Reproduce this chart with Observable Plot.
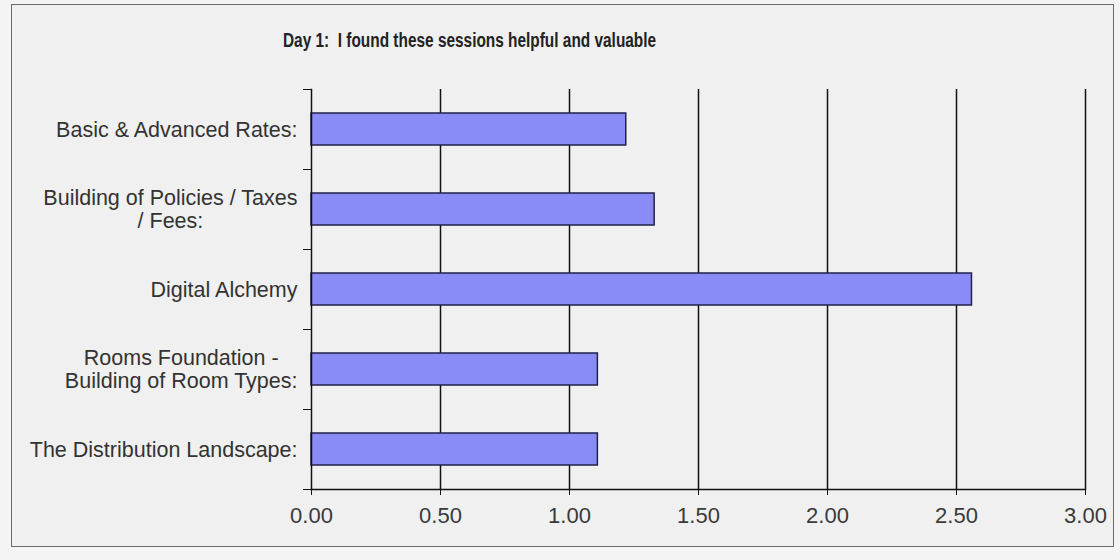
<!DOCTYPE html>
<html>
<head>
<meta charset="utf-8">
<script src="https://cdn.jsdelivr.net/npm/d3@7"></script>
<script src="https://cdn.jsdelivr.net/npm/@observablehq/plot@0.6"></script>
<style>
  html, body { margin: 0; padding: 0; background: #f4f4f4; }
  #wrap { position: relative; width: 1120px; height: 560px; overflow: hidden; background: #f4f4f4; }
  #border { position: absolute; left: 11px; top: 4px; width: 1103px; height: 543px; border: 1.5px solid #6a6a6a; background: #f0f0f0; box-sizing: border-box; }
  #title { position: absolute; left: 283px; top: 30px; font-family: "Liberation Sans", Arial, sans-serif; font-weight: bold; font-size: 20px; line-height: 20px; color: #222; white-space: pre; transform: scaleX(0.77); transform-origin: left top; }
  #chart { position: absolute; left: 0; top: 0; }
</style>
</head>
<body>
<div id="wrap">
  <div id="border"></div>
  <div id="title"></div>
  <div id="chart"></div>
</div>
<script>
const title = "Day 1:  I found these sessions helpful and valuable";
const categories = [
  "Basic & Advanced Rates:",
  "Building of Policies / Taxes\n/ Fees:",
  "Digital Alchemy",
  "Rooms Foundation -\nBuilding of Room Types:",
  "The Distribution Landscape:"
];
const values = [1.22, 1.33, 2.56, 1.11, 1.11];
const xTicks = [0, 0.5, 1, 1.5, 2, 2.5, 3];
const gridTicks = [0.5, 1, 1.5, 2, 2.5, 3];

const data = categories.map((c, i) => ({category: c, value: values[i]}));

document.getElementById("title").textContent = title;

const W = 1120, H = 560, mt = 89, mb = 71, ml = 311, mr = 35;
const band = (H - mt - mb) / categories.length;

const plot = Plot.plot({
  width: W,
  height: H,
  marginTop: mt,
  marginBottom: mb,
  marginLeft: ml,
  marginRight: mr,
  style: {background: "transparent", fontFamily: "'Liberation Sans', Arial, sans-serif", fontSize: "22px", color: "#333"},
  x: {domain: [0, 3]},
  y: {domain: categories, paddingInner: 0.6, paddingOuter: 0.3},
  marks: [
    Plot.gridX(gridTicks, {stroke: "#111", strokeOpacity: 1, strokeWidth: 1.5}),
    Plot.barX(data, {x: "value", y: "category", fill: "#8b8bf6", stroke: "#22224a", strokeWidth: 1.5}),
    Plot.frame({anchor: "left", stroke: "#111", strokeWidth: 1.5}),
    Plot.frame({anchor: "bottom", stroke: "#111", strokeWidth: 1.5}),
    Plot.axisX({ticks: xTicks, tickFormat: d3.format(".2f"), tickSize: 6, tickPadding: 12, fontSize: 22, fill: "#3a3a3a", stroke: "#111", label: null}),
    Plot.axisY({tickSize: 0, tickPadding: 14, fontSize: 21.5, lineHeight: 1.06, fill: "#333", label: null}),
    Plot.axisY({tickSize: 8, tickFormat: () => "", dy: -band / 2, stroke: "#111", label: null}),
    Plot.axisY({ticks: [categories[categories.length - 1]], tickSize: 8, tickFormat: () => "", dy: band / 2, stroke: "#111", label: null})
  ]
});

document.getElementById("chart").appendChild(plot);

// center multi-line y labels within their block (right-aligned block)
plot.querySelectorAll('g[aria-label="y-axis tick label"] text').forEach(t => {
  const spans = t.querySelectorAll("tspan");
  if (spans.length > 1) {
    let maxW = 0;
    spans.forEach(s => { maxW = Math.max(maxW, s.getComputedTextLength()); });
    t.setAttribute("text-anchor", "middle");
    spans.forEach(s => s.setAttribute("x", -maxW / 2));
  }
});
</script>
</body>
</html>
